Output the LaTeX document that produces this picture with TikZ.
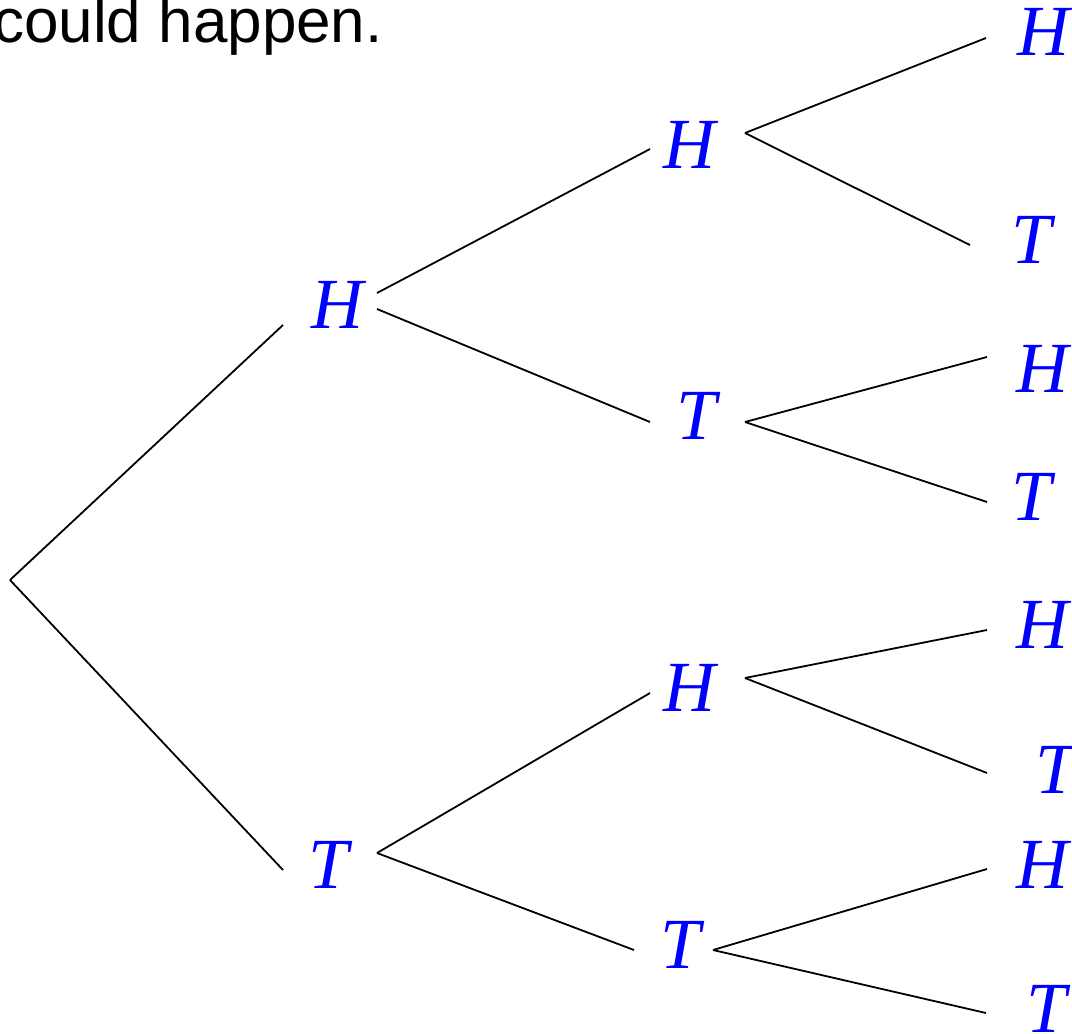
\documentclass[tikz,border=0pt]{standalone}
\usepackage{fontspec}
\setmainfont{Liberation Serif}
\newfontfamily\captionfont{Liberation Sans}

\begin{document}
\begin{tikzpicture}[
        x=1pt, y=-1pt,
        coin/.style={text=blue, inner sep=0pt, font=\fontsize{72}{72}\selectfont\itshape},
        branch/.style={draw=black, line width=1.8pt},
        caption/.style={anchor=base east, inner sep=0pt, font=\fontsize{62}{62}\selectfont\captionfont}
    ]
        \useasboundingbox (0,0) rectangle (1072,1034);
        \clip (0,0) rectangle (1072,1034);

        % ----------------------------------------------------
        % CAPTION (cut off at the top left)
        % ----------------------------------------------------
        \node[caption] (note) at (383, 42) {could happen.};

        % ----------------------------------------------------
        % TOSS OUTCOMES
        % ----------------------------------------------------
        \coordinate (start) at (10, 580);

        % First toss
        \node[coin] (h) at (337, 305) {H};
        \node[coin] (t) at (329, 865) {T};

        % Second toss
        \node[coin] (hh) at (689, 145) {H};
        \node[coin] (ht) at (697, 416) {T};
        \node[coin] (th) at (689, 688) {H};
        \node[coin] (tt) at (681, 945) {T};

        % Third toss
        \node[coin] (hhh) at (1043, 32) {H};
        \node[coin] (hht) at (1032, 240) {T};
        \node[coin] (hth) at (1042, 369) {H};
        \node[coin] (htt) at (1032, 497) {T};
        \node[coin] (thh) at (1042, 625) {H};
        \node[coin] (tht) at (1056, 770) {T};
        \node[coin] (tth) at (1042, 865) {H};
        \node[coin] (ttt) at (1047, 1009) {T};

        % ----------------------------------------------------
        % BRANCHES
        % ----------------------------------------------------
        % First toss
        \draw[branch] (start) -- ([shift={(-54,20)}]h.center);
        \draw[branch] (start) -- ([shift={(-46,5)}]t.center);

        % Second toss
        \draw[branch] ([shift={(40,-12)}]h.center) -- ([shift={(-39,4)}]hh.center);
        \draw[branch] ([shift={(40,4)}]h.center) -- ([shift={(-47,6)}]ht.center);
        \draw[branch] ([shift={(48,-12)}]t.center) -- ([shift={(-39,5)}]th.center);
        \draw[branch] ([shift={(48,-12)}]t.center) -- ([shift={(-47,5)}]tt.center);

        % Third toss
        \draw[branch] ([shift={(56,-12)}]hh.center) -- ([shift={(-57,6)}]hhh.center);
        \draw[branch] ([shift={(56,-12)}]hh.center) -- ([shift={(-62,5)}]hht.center);
        \draw[branch] ([shift={(48,6)}]ht.center) -- ([shift={(-55,-12)}]hth.center);
        \draw[branch] ([shift={(48,6)}]ht.center) -- ([shift={(-45,5)}]htt.center);
        \draw[branch] ([shift={(56,-10)}]th.center) -- ([shift={(-55,5)}]thh.center);
        \draw[branch] ([shift={(56,-10)}]th.center) -- ([shift={(-69,3)}]tht.center);
        \draw[branch] ([shift={(32,5)}]tt.center) -- ([shift={(-55,4)}]tth.center);
        \draw[branch] ([shift={(32,5)}]tt.center) -- ([shift={(-61,4)}]ttt.center);

    \end{tikzpicture}
\end{document}
